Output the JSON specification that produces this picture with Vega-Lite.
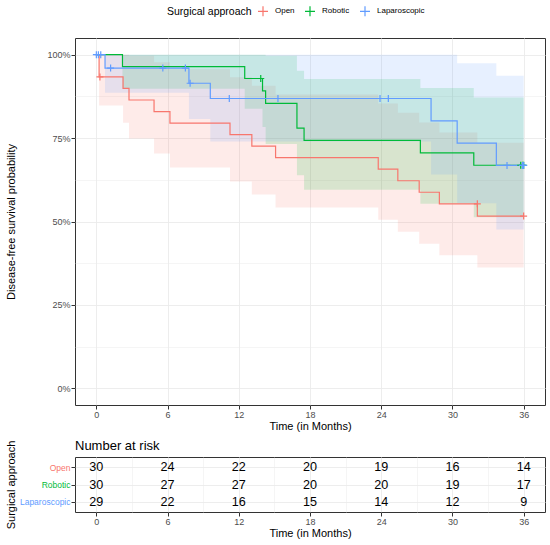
{
  "$schema": "https://vega.github.io/schema/vega-lite/v6.json",
  "padding": {"left": 4, "top": 5, "right": 5, "bottom": 4},
  "background": "white",
  "config": {
    "font": "Liberation Sans",
    "view": {"stroke": "#333333", "strokeWidth": 1},
    "axis": {
      "domain": false,
      "labelColor": "#4D4D4D",
      "labelFontSize": 9,
      "labelPadding": 1,
      "tickColor": "#333333",
      "tickSize": 4,
      "titleFontSize": 11,
      "titleFontWeight": "normal",
      "titleColor": "#000000",
      "gridColor": "#EBEBEB"
    }
  },
  "datasets": {
    "km": [
      {"group": "Open", "time": 0, "surv": 1, "lower": 1, "upper": 1},
      {"group": "Open", "time": 0.23, "surv": 0.9333, "lower": 0.848, "upper": 1},
      {"group": "Open", "time": 2.25, "surv": 0.8988, "lower": 0.796, "upper": 1},
      {"group": "Open", "time": 2.75, "surv": 0.8642, "lower": 0.749, "upper": 0.997},
      {"group": "Open", "time": 4.86, "surv": 0.8296, "lower": 0.704, "upper": 0.977},
      {"group": "Open", "time": 6.2, "surv": 0.7951, "lower": 0.662, "upper": 0.956},
      {"group": "Open", "time": 11.26, "surv": 0.7605, "lower": 0.62, "upper": 0.932},
      {"group": "Open", "time": 13.1, "surv": 0.7259, "lower": 0.581, "upper": 0.907},
      {"group": "Open", "time": 15.1, "surv": 0.6914, "lower": 0.542, "upper": 0.881},
      {"group": "Open", "time": 23.75, "surv": 0.6568, "lower": 0.505, "upper": 0.854},
      {"group": "Open", "time": 25.4, "surv": 0.6222, "lower": 0.469, "upper": 0.826},
      {"group": "Open", "time": 27.2, "surv": 0.5877, "lower": 0.433, "upper": 0.797},
      {"group": "Open", "time": 28.9, "surv": 0.5531, "lower": 0.399, "upper": 0.767},
      {"group": "Open", "time": 32.1, "surv": 0.5162, "lower": 0.362, "upper": 0.736},
      {"group": "Open", "time": 36, "surv": 0.5162, "lower": 0.362, "upper": 0.736},
      {"group": "Robotic", "time": 0, "surv": 1, "lower": 1, "upper": 1},
      {"group": "Robotic", "time": 2.2, "surv": 0.9643, "lower": 0.898, "upper": 1},
      {"group": "Robotic", "time": 12.5, "surv": 0.9286, "lower": 0.838, "upper": 1},
      {"group": "Robotic", "time": 14.0, "surv": 0.8914, "lower": 0.783, "upper": 1},
      {"group": "Robotic", "time": 14.26, "surv": 0.8543, "lower": 0.732, "upper": 0.997},
      {"group": "Robotic", "time": 16.9, "surv": 0.78, "lower": 0.639, "upper": 0.952},
      {"group": "Robotic", "time": 17.5, "surv": 0.7429, "lower": 0.595, "upper": 0.927},
      {"group": "Robotic", "time": 27.3, "surv": 0.7057, "lower": 0.553, "upper": 0.9},
      {"group": "Robotic", "time": 31.8, "surv": 0.6686, "lower": 0.513, "upper": 0.872},
      {"group": "Robotic", "time": 36, "surv": 0.6686, "lower": 0.513, "upper": 0.872},
      {"group": "Laparoscopic", "time": 0, "surv": 1, "lower": 1, "upper": 1},
      {"group": "Laparoscopic", "time": 0.73, "surv": 0.96, "lower": 0.886, "upper": 1},
      {"group": "Laparoscopic", "time": 7.8, "surv": 0.9143, "lower": 0.807, "upper": 1},
      {"group": "Laparoscopic", "time": 9.6, "surv": 0.8686, "lower": 0.74, "upper": 1},
      {"group": "Laparoscopic", "time": 28.2, "surv": 0.8018, "lower": 0.641, "upper": 1},
      {"group": "Laparoscopic", "time": 30.4, "surv": 0.735, "lower": 0.555, "upper": 0.974},
      {"group": "Laparoscopic", "time": 33.7, "surv": 0.6682, "lower": 0.476, "upper": 0.937},
      {"group": "Laparoscopic", "time": 36, "surv": 0.6682, "lower": 0.476, "upper": 0.937}
    ],
    "censor": [
      {"group": "Open", "time": 0.3, "surv": 0.9333},
      {"group": "Open", "time": 32.1, "surv": 0.5531},
      {"group": "Open", "time": 36, "surv": 0.5162},
      {"group": "Robotic", "time": 13.85, "surv": 0.9286},
      {"group": "Robotic", "time": 35.75, "surv": 0.6686},
      {"group": "Robotic", "time": 35.9, "surv": 0.6686},
      {"group": "Robotic", "time": 36, "surv": 0.6686},
      {"group": "Laparoscopic", "time": 0, "surv": 1},
      {"group": "Laparoscopic", "time": 0.17, "surv": 1},
      {"group": "Laparoscopic", "time": 0.37, "surv": 1},
      {"group": "Laparoscopic", "time": 1.2, "surv": 0.96},
      {"group": "Laparoscopic", "time": 5.6, "surv": 0.96},
      {"group": "Laparoscopic", "time": 7.5, "surv": 0.96},
      {"group": "Laparoscopic", "time": 7.9, "surv": 0.9143},
      {"group": "Laparoscopic", "time": 11.2, "surv": 0.8686},
      {"group": "Laparoscopic", "time": 15.3, "surv": 0.8686},
      {"group": "Laparoscopic", "time": 23.9, "surv": 0.8686},
      {"group": "Laparoscopic", "time": 24.6, "surv": 0.8686},
      {"group": "Laparoscopic", "time": 34.6, "surv": 0.6682},
      {"group": "Laparoscopic", "time": 35.9, "surv": 0.6682},
      {"group": "Laparoscopic", "time": 36, "surv": 0.6682}
    ],
    "risk": [
      {"group": "Open", "time": 0, "n": 30},
      {"group": "Open", "time": 6, "n": 24},
      {"group": "Open", "time": 12, "n": 22},
      {"group": "Open", "time": 18, "n": 20},
      {"group": "Open", "time": 24, "n": 19},
      {"group": "Open", "time": 30, "n": 16},
      {"group": "Open", "time": 36, "n": 14},
      {"group": "Robotic", "time": 0, "n": 30},
      {"group": "Robotic", "time": 6, "n": 27},
      {"group": "Robotic", "time": 12, "n": 27},
      {"group": "Robotic", "time": 18, "n": 20},
      {"group": "Robotic", "time": 24, "n": 20},
      {"group": "Robotic", "time": 30, "n": 19},
      {"group": "Robotic", "time": 36, "n": 17},
      {"group": "Laparoscopic", "time": 0, "n": 29},
      {"group": "Laparoscopic", "time": 6, "n": 22},
      {"group": "Laparoscopic", "time": 12, "n": 16},
      {"group": "Laparoscopic", "time": 18, "n": 15},
      {"group": "Laparoscopic", "time": 24, "n": 14},
      {"group": "Laparoscopic", "time": 30, "n": 12},
      {"group": "Laparoscopic", "time": 36, "n": 9}
    ]
  },
  "spacing": 7,
  "vconcat": [
    {
      "width": 470,
      "height": 367,
      "layer": [
        {
          "data": {"name": "km"},
          "mark": {"type": "area", "interpolate": "step-after", "fillOpacity": 0.15},
          "encoding": {
            "x": {"field": "time", "type": "quantitative"},
            "y": {"field": "lower", "type": "quantitative"},
            "y2": {"field": "upper"},
            "color": {"field": "group", "type": "nominal"}
          }
        },
        {
          "data": {"name": "km"},
          "mark": {"type": "line", "interpolate": "step-after", "strokeWidth": 1.2},
          "encoding": {
            "x": {
              "field": "time", "type": "quantitative",
              "scale": {"domain": [-1.8, 37.8], "nice": false, "zero": false},
              "axis": {
                "title": "Time (in Months)",
                "titlePadding": 1,
                "values": [0, 3, 6, 9, 12, 15, 18, 21, 24, 27, 30, 33, 36],
                "labelExpr": "datum.value % 6 === 0 ? datum.label : ''",
                "tickOpacity": {"condition": {"test": "datum.value % 6 === 0", "value": 1}, "value": 0},
                "gridWidth": {"condition": {"test": "datum.value % 6 === 0", "value": 0.9}, "value": 0.5},
                "grid": true
              }
            },
            "y": {
              "field": "surv", "type": "quantitative",
              "scale": {"domain": [-0.05, 1.05], "nice": false, "zero": false},
              "axis": {
                "title": "Disease-free survival probability",
                "titlePadding": 30,
                "format": ".0%",
                "values": [0, 0.125, 0.25, 0.375, 0.5, 0.625, 0.75, 0.875, 1],
                "labelExpr": "datum.value * 4 % 1 === 0 ? datum.label : ''",
                "tickOpacity": {"condition": {"test": "datum.value * 4 % 1 === 0", "value": 1}, "value": 0},
                "gridWidth": {"condition": {"test": "datum.value * 4 % 1 === 0", "value": 0.9}, "value": 0.5},
                "grid": true
              }
            },
            "color": {
              "field": "group", "type": "nominal",
              "scale": {"domain": ["Open", "Robotic", "Laparoscopic"], "range": ["#F8766D", "#00BA38", "#619CFF"]},
              "legend": {
                "title": "Surgical approach",
                "orient": "none",
                "legendX": 92,
                "legendY": -33,
                "direction": "horizontal",
                "titleOrient": "left",
                "titleFontSize": 10.5,
                "titleFontWeight": "normal",
                "titleColor": "#000000",
                "titlePadding": 5,
                "labelFontSize": 8,
                "labelColor": "#000000",
                "labelOffset": 6,
                "columnPadding": 7,
                "symbolType": "M-1,0H1M0,-1V1",
                "symbolSize": 100,
                "symbolStrokeWidth": 1.2,
                "symbolOpacity": 1
              }
            }
          }
        },
        {
          "data": {"name": "censor"},
          "mark": {"type": "point", "shape": "M-1,0H1M0,-1V1", "filled": false, "size": 49, "strokeWidth": 1.2, "opacity": 1},
          "encoding": {
            "x": {"field": "time", "type": "quantitative"},
            "y": {"field": "surv", "type": "quantitative"},
            "color": {"field": "group", "type": "nominal"}
          }
        }
      ]
    },
    {
      "width": 470,
      "height": 55,
      "title": {"text": "Number at risk", "anchor": "start", "frame": "group", "fontSize": 13, "fontWeight": "normal", "offset": -13, "color": "#000000"},
      "data": {"name": "risk"},
      "mark": {"type": "text", "fontSize": 12.6, "color": "#000000", "baseline": "middle", "align": "center"},
      "encoding": {
        "x": {
          "field": "time", "type": "quantitative",
          "scale": {"domain": [-1.8, 37.8], "nice": false, "zero": false},
          "axis": {
            "title": "Time (in Months)",
            "titlePadding": 1,
            "values": [0, 3, 6, 9, 12, 15, 18, 21, 24, 27, 30, 33, 36],
            "labelExpr": "datum.value % 6 === 0 ? datum.label : ''",
            "tickOpacity": {"condition": {"test": "datum.value % 6 === 0", "value": 1}, "value": 0},
            "gridWidth": {"condition": {"test": "datum.value % 6 === 0", "value": 0.9}, "value": 0.5},
            "grid": true
          }
        },
        "y": {
          "field": "group", "type": "nominal",
          "scale": {"type": "point", "domain": ["Open", "Robotic", "Laparoscopic"], "padding": 0.6},
          "axis": {
            "title": "Surgical approach",
            "titlePadding": 3,
            "labelFontSize": 8.5,
            "grid": true,
            "gridWidth": 0.9,
            "labelColor": {"condition": [
              {"test": "datum.value === 'Open'", "value": "#F8766D"},
              {"test": "datum.value === 'Robotic'", "value": "#00BA38"}
            ], "value": "#619CFF"}
          }
        },
        "text": {"field": "n", "type": "quantitative"}
      }
    }
  ]
}
